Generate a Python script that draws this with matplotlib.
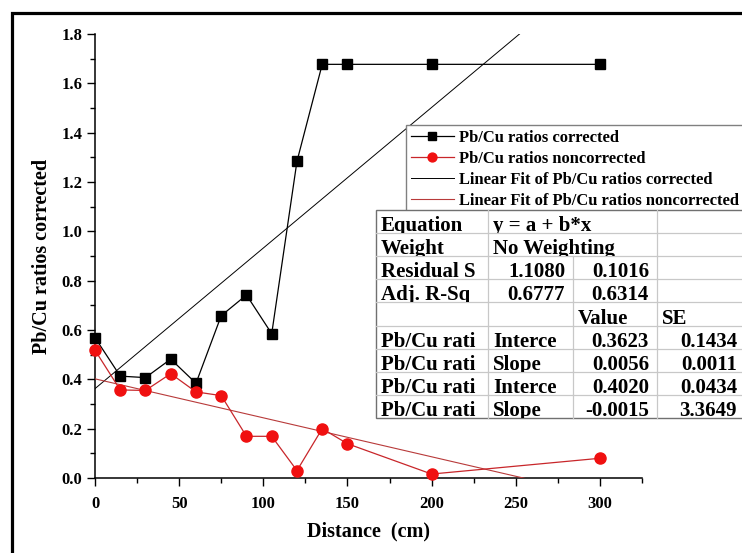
import matplotlib
matplotlib.use('Agg')
import matplotlib.pyplot as plt
import numpy as np
from matplotlib.lines import Line2D
from matplotlib.patches import Rectangle
from matplotlib.transforms import Bbox, TransformedBbox
from matplotlib.ticker import MultipleLocator

plt.rcParams['font.family'] = ['Liberation Serif', 'DejaVu Serif']
plt.rcParams['font.weight'] = 'bold'

# ---- data ----
dist = [0, 15, 30, 45, 60, 75, 90, 105, 120, 135, 150, 200, 300]
corr = [0.569, 0.413, 0.407, 0.482, 0.384, 0.658, 0.742, 0.585, 1.284, 1.677, 1.677, 1.677, 1.677]
noncorr = [0.518, 0.357, 0.355, 0.423, 0.349, 0.334, 0.169, 0.169, 0.030, 0.200, 0.139, 0.016, 0.080]

# linear fits (intercept, slope) as drawn
fit_corr = (0.3623, 0.0057)
fit_noncorr = (0.4020, -0.00158)

# fit results table (one list per row)
tab_rows = [
    ['Equation', 'y = a + b*x', None, ''],
    ['Weight', 'No Weighting', None, ''],
    ['Residual S', '1.1080', '0.1016', ''],
    ['Adj. R-Sq', '0.6777', '0.6314', ''],
    ['', '', 'Value', 'SE'],
    ['Pb/Cu rati', 'Interce', '0.3623', '0.1434'],
    ['Pb/Cu rati', 'Slope', '0.0056', '0.0011'],
    ['Pb/Cu rati', 'Interce', '0.4020', '0.0434'],
    ['Pb/Cu rati', 'Slope', '-0.0015', '3.3649'],
]

W, H = 742, 553
fig = plt.figure(figsize=(W/100, H/100), dpi=100)

def fx(x): return x/W
def fy(y): return 1 - y/H

ax = fig.add_axes([fx(95), fy(478), fx(642)-fx(95), fy(34)-fy(478)])

ax.plot(dist, corr, color='black', lw=0.9, marker='s', ms=7.5, mfc='black', mec='black',
        clip_on=False, zorder=4, label='Pb/Cu ratios corrected')
ax.plot(dist, noncorr, color='#c8262a', lw=0.9, marker='o', ms=8, mfc='#f01010', mec='#f01010',
        clip_on=False, zorder=4, label='Pb/Cu ratios noncorrected')
xf = np.array([0, 325])
ax.plot(xf, fit_corr[0] + fit_corr[1]*xf, color='black', lw=0.7, zorder=3,
        label='Linear Fit of Pb/Cu ratios corrected')
ax.plot(xf, fit_noncorr[0] + fit_noncorr[1]*xf, color='#b83a3a', lw=0.8, zorder=3,
        label='Linear Fit of Pb/Cu ratios noncorrected')

ax.set_xlim(0, 325)
ax.set_ylim(0, 1.8)
ax.xaxis.set_major_locator(MultipleLocator(50))
ax.xaxis.set_minor_locator(MultipleLocator(25))
ax.yaxis.set_major_locator(MultipleLocator(0.2))
ax.yaxis.set_minor_locator(MultipleLocator(0.1))
ax.yaxis.set_major_formatter(plt.FuncFormatter(lambda v, p: '%.1f' % v))
for s in ['top', 'right']:
    ax.spines[s].set_visible(False)
for s in ['left', 'bottom']:
    ax.spines[s].set_linewidth(1.1)
ax.tick_params(which='major', direction='out', length=6, width=1, labelsize=12)
ax.tick_params(which='minor', direction='out', length=3.5, width=1)
ax.tick_params(axis='y', which='major', pad=3)
ax.tick_params(axis='x', which='major', pad=7)
for t in ax.get_xticklabels() + ax.get_yticklabels():
    t.set_fontweight('bold')

ax.set_xlabel('Distance  (cm)', fontsize=14.5, fontweight='bold', labelpad=7)
ax.set_ylabel('Pb/Cu ratios corrected', fontsize=14.5, fontweight='bold', labelpad=7)

leg = ax.legend(loc='upper left', bbox_to_anchor=(fx(406), fy(125)), bbox_transform=fig.transFigure,
                prop={'family': 'Liberation Serif', 'weight': 'bold', 'size': 11.9},
                frameon=True, fancybox=False, framealpha=1, edgecolor='#808080',
                borderpad=0.3, labelspacing=0.3, handlelength=2.6, handletextpad=0.3,
                borderaxespad=0, markerscale=0.8, numpoints=1)
leg.get_frame().set_linewidth(1.0)
leg.set_zorder(10)

# ---- results table drawn on the figure ----
col_x = [376, 488, 573, 657, 745]
tab_top, tab_bot = 210, 418
row_h = (tab_bot - tab_top) / len(tab_rows)

fig.add_artist(Rectangle((fx(376), fy(tab_bot)), fx(745)-fx(376), fy(tab_top)-fy(tab_bot),
                         transform=fig.transFigure, facecolor='white', edgecolor='#707070',
                         lw=1.0, zorder=5))
for i in range(1, len(tab_rows)):
    yy = tab_top + i*row_h
    fig.add_artist(Line2D([fx(376), fx(745)], [fy(yy), fy(yy)], transform=fig.transFigure,
                          color='#c8c8c8', lw=0.9, zorder=6))
for i, row in enumerate(tab_rows):
    y0 = tab_top + i*row_h
    y1 = y0 + row_h
    for c in (1, 2, 3):
        if c == 2 and row[2] is None:
            continue
        fig.add_artist(Line2D([fx(col_x[c]), fx(col_x[c])], [fy(y0), fy(y1)], transform=fig.transFigure,
                              color='#c8c8c8', lw=0.9, zorder=6))
    for c, txt in enumerate(row):
        if not txt:
            continue
        x0 = col_x[c]
        x1 = col_x[c+2] if (c == 1 and row[2] is None) else col_x[c+1]
        numeric = txt[0].isdigit() or txt[0] == '-'
        if numeric:
            tx, ha = x1 - 8, 'right'
        else:
            tx, ha = x0 + 5, 'left'
        t = fig.text(fx(tx), fy(y1 - 2), txt, ha=ha, va='baseline', fontsize=15,
                     fontweight='bold', zorder=7)
        t.set_clip_box(TransformedBbox(Bbox.from_extents(fx(x0), fy(y1), fx(x1), fy(y0)), fig.transFigure))
        t.set_clip_on(True)

# thick outer frame (runs off the right and bottom edges)
fig.add_artist(Rectangle((fx(12), fy(600)), fx(800)-fx(12), fy(13)-fy(600), transform=fig.transFigure,
                         facecolor='none', edgecolor='black', lw=2.3, zorder=8, clip_on=False))

fig.savefig('out.png', dpi=100)
